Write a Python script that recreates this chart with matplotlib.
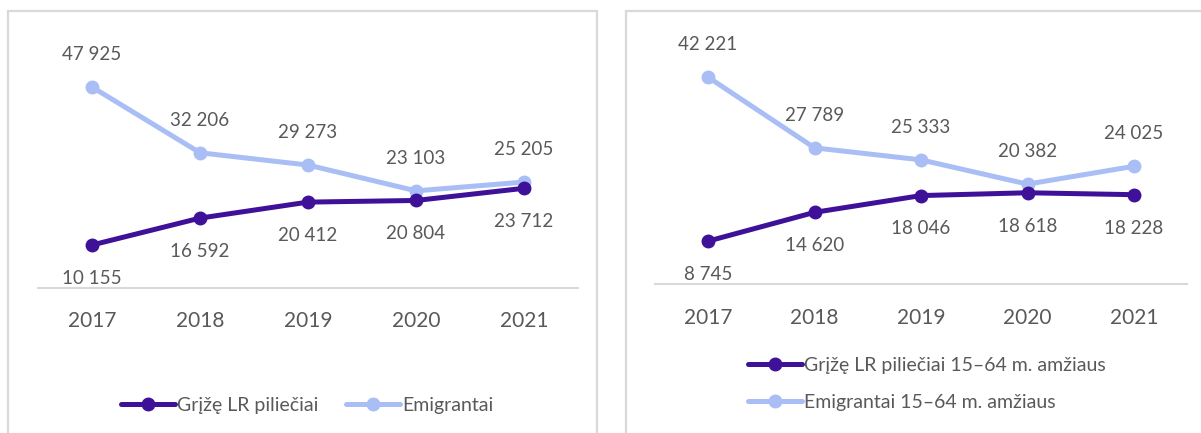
import matplotlib
matplotlib.use("Agg")
import matplotlib.pyplot as plt
from matplotlib.patches import Rectangle

# Duomenys
metai = ["2017", "2018", "2019", "2020", "2021"]
grize_visi = [10155, 16592, 20412, 20804, 23712]
emigrantai_visi = [47925, 32206, 29273, 23103, 25205]
grize_15_64 = [8745, 14620, 18046, 18618, 18228]
emigrantai_15_64 = [42221, 27789, 25333, 20382, 24025]

tamsi = "#3F1199"
sviesi = "#A9BEF5"
teksto_spalva = "#595959"
asies_spalva = "#D9D9D9"

plt.rcParams['font.family'] = ['Lato', 'DejaVu Sans']

fig = plt.figure(figsize=(12.01, 4.33), dpi=100)
W, H = 1201, 433


def fx(px):
    return px / W


def fy(py):
    return 1 - py / H


# Rėmeliai aplink abi diagramas
fig.patches.append(Rectangle((fx(8), fy(440)), fx(589), (440 - 11) / H, transform=fig.transFigure,
                             fill=False, edgecolor=asies_spalva, linewidth=1.6))
fig.patches.append(Rectangle((fx(626), fy(440)), fx(590), (440 - 11) / H, transform=fig.transFigure,
                             fill=False, edgecolor=asies_spalva, linewidth=1.6))


def piesti(ax, grize, emigr, ymax):
    x = range(len(metai))
    l1, = ax.plot(x, grize, color=tamsi, lw=3.6, marker="o", ms=9, solid_capstyle="round", zorder=3)
    l2, = ax.plot(x, emigr, color=sviesi, lw=3.6, marker="o", ms=9, solid_capstyle="round", zorder=2)
    for i in x:
        ax.annotate(f"{emigr[i]:,}".replace(",", " "), (i, emigr[i]), xytext=(0, 23.5),
                    textcoords="offset points", ha="center", va="center",
                    fontsize=13.5, color=teksto_spalva)
        ax.annotate(f"{grize[i]:,}".replace(",", " "), (i, grize[i]), xytext=(0, -24),
                    textcoords="offset points", ha="center", va="center",
                    fontsize=13.5, color=teksto_spalva)
    ax.set_xlim(-0.5, len(metai) - 0.5)
    ax.set_ylim(0, ymax)
    ax.set_xticks(list(x))
    ax.set_xticklabels(metai, fontsize=15, color=teksto_spalva)
    ax.tick_params(axis="x", length=0, pad=17)
    ax.set_yticks([])
    for s in ["top", "right", "left"]:
        ax.spines[s].set_visible(False)
    ax.spines["bottom"].set_color(asies_spalva)
    ax.spines["bottom"].set_linewidth(1.5)
    ax.patch.set_alpha(0)
    return l1, l2


ax1 = fig.add_axes([fx(38), 1 - 287.5 / H, fx(540), 251 / H])
a1, b1 = piesti(ax1, grize_visi, emigrantai_visi, 60000)
ax1.legend([a1, b1], ["Grįžę LR piliečiai", "Emigrantai"], loc="center",
           bbox_to_anchor=(fx(307), fy(405)), bbox_transform=fig.transFigure,
           ncol=2, frameon=False, fontsize=14, handlelength=2.8, handletextpad=0.1,
           columnspacing=1.4, labelcolor=teksto_spalva)

ax2 = fig.add_axes([fx(654.75), 1 - 284 / H, fx(532.5), 245 / H])
a2, b2 = piesti(ax2, grize_15_64, emigrantai_15_64, 50000)
ax2.legend([a2, b2], ["Grįžę LR piliečiai 15–64 m. amžiaus", "Emigrantai 15–64 m. amžiaus"],
           loc="upper left", bbox_to_anchor=(fx(730), fy(339)), bbox_transform=fig.transFigure,
           ncol=1, frameon=False, fontsize=14, handlelength=2.8, handletextpad=0.1,
           labelspacing=1.05, labelcolor=teksto_spalva)

fig.savefig("out.png", dpi=100)
